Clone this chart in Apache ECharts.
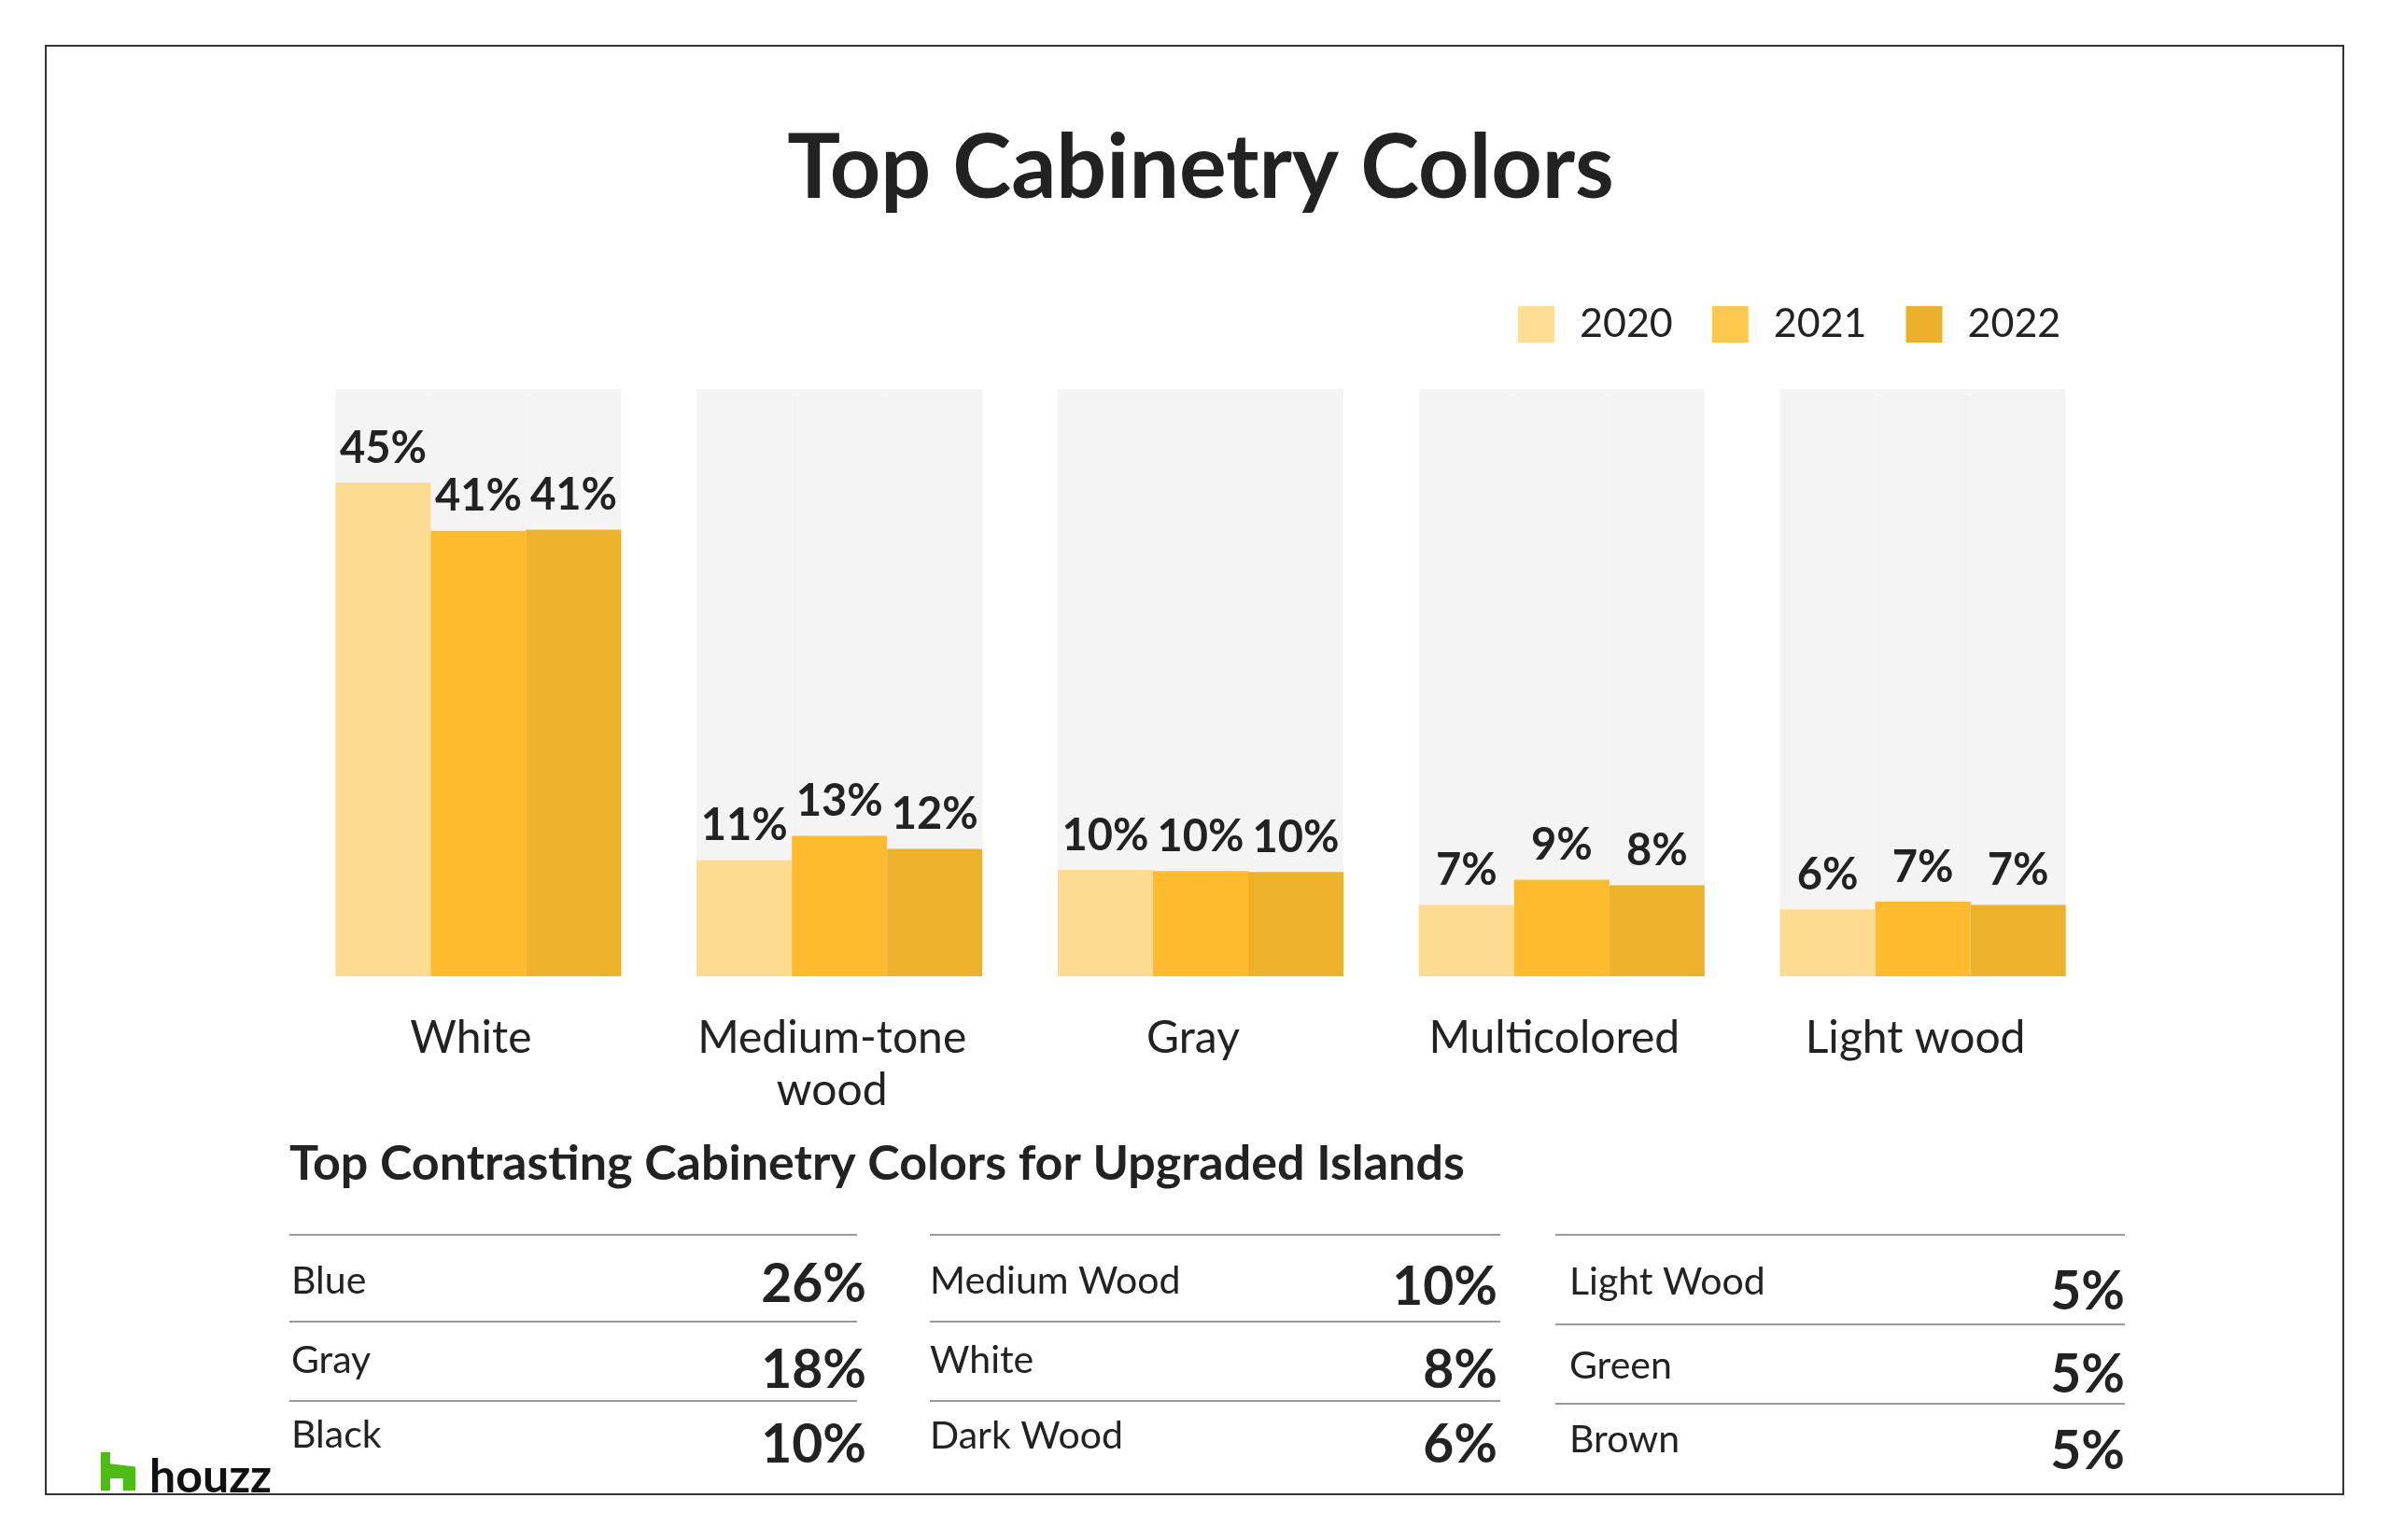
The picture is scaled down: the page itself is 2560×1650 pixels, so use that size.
<!DOCTYPE html>
<html>
<head>
<meta charset="utf-8">
<script src="https://cdn.jsdelivr.net/npm/echarts@6/dist/echarts.min.js"></script>
<style>
html,body{margin:0;padding:0;background:#fff;}
#chart{width:2560px;height:1650px;}
</style>
</head>
<body>
<div id="chart"></div>
<script>
// ---- data ----
const categories = ['White', 'Medium-tone\nwood', 'Gray', 'Multicolored', 'Light wood'];
const years = ['2020', '2021', '2022'];
const values2020 = [45, 10.6, 9.7, 6.5, 6.1];
const values2021 = [40.6, 12.8, 9.6, 8.8, 6.8];
const values2022 = [40.7, 11.6, 9.5, 8.3, 6.5];
const islandTitle = 'Top Contrasting Cabinetry Colors for Upgraded Islands';
const islandNames = [['Blue', 'Gray', 'Black'], ['Medium Wood', 'White', 'Dark Wood'], ['Light Wood', 'Green', 'Brown']];
const islandValues = [[26, 18, 10], [10, 8, 6], [5, 5, 5]];

// ---- layout / style ----
const FONT = 'Lato, "Open Sans", sans-serif';
const TXT = '#222222';
const colors = ['#FDDC92', '#FDBB2D', '#EBB22A'];
const legendColors = ['#FFDD95', '#FFC94F', '#EBB12A'];
const allValues = [values2020, values2021, values2022];

const chart = echarts.init(document.getElementById('chart'));

const colLeft = [310, 996, 1666];
const colRight = [918, 1607, 2276];
const labelX = [312, 996, 1681];
const valueRight = [928, 1604, 2276];
const lineY = [[1323, 1416, 1501], [1323, 1416, 1501], [1323, 1419, 1504]];
const labelY = [[1373, 1458, 1538], [1373, 1458, 1539], [1374, 1464, 1543]];
const valueY = [[1377, 1469, 1549], [1380, 1469, 1549], [1385, 1474, 1556]];

const graphics = [
  { type: 'rect', shape: { x: 49, y: 49, width: 2461, height: 1552 }, style: { fill: 'none', stroke: '#333', lineWidth: 2 }, z: 0 },
  { type: 'text', x: 310, y: 1247, style: { text: islandTitle, fontSize: 52, fontWeight: 'bold', fontFamily: FONT, fill: TXT, align: 'left', verticalAlign: 'middle' } }
];
for (let c = 0; c < 3; c++) {
  for (let r = 0; r < 3; r++) {
    const ly = lineY[c][r];
    graphics.push({ type: 'line', shape: { x1: colLeft[c], y1: ly, x2: colRight[c], y2: ly }, style: { stroke: '#9a9a9a', lineWidth: 2 } });
    graphics.push({ type: 'text', x: labelX[c], y: labelY[c][r], style: { text: islandNames[c][r], fontSize: 41, fontFamily: FONT, fill: TXT, align: 'left', verticalAlign: 'middle' } });
    graphics.push({ type: 'text', x: valueRight[c], y: valueY[c][r], style: { text: islandValues[c][r] + '%', fontSize: 57, fontWeight: 'bold', fontFamily: FONT, fill: TXT, align: 'right', verticalAlign: 'middle' } });
  }
}
// houzz logo (icon box 108..145 x 1556..1597)
(function () {
  const x0 = 108, y0 = 1556, w = 37, h = 41;
  const rel = [[0, 0], [0.27, 0], [0.27, 0.3], [1, 0.38], [1, 1], [0.64, 1], [0.64, 0.68], [0.27, 0.68], [0.27, 1], [0, 1]];
  graphics.push({ type: 'polygon', shape: { points: rel.map(p => [x0 + p[0] * w, y0 + p[1] * h]) }, style: { fill: '#4DBC15' } });
})();
graphics.push({ type: 'text', x: 160, y: 1583, style: { text: 'houzz', fontSize: 50, fontWeight: 'bold', fontFamily: FONT, fill: '#111', align: 'left', verticalAlign: 'middle' } });

const option = {
  backgroundColor: '#ffffff',
  animation: false,
  title: {
    text: 'Top Cabinetry Colors',
    left: 1281,
    textAlign: 'center',
    top: 129,
    textStyle: { fontSize: 95, fontWeight: 'bold', fontFamily: FONT, color: TXT }
  },
  legend: {
    data: years.map((y, i) => ({ name: y, itemStyle: { color: legendColors[i] } })),
    left: 1621,
    top: 321,
    itemWidth: 39,
    itemHeight: 39,
    itemGap: 42,
    icon: 'rect',
    textStyle: { fontSize: 43, fontFamily: FONT, color: TXT, padding: [3, 0, 0, 22] }
  },
  grid: { left: 319, right: 307, top: 417, bottom: 604, containLabel: false },
  xAxis: {
    type: 'category',
    data: categories,
    axisLine: { show: false },
    axisTick: { show: false },
    axisLabel: { fontSize: 48, fontFamily: FONT, color: TXT, margin: 39, lineHeight: 56, verticalAlign: 'top', padding: [0, 16, 0, 0] }
  },
  yAxis: {
    type: 'value',
    min: 0,
    max: 53.5,
    show: false,
    splitLine: { show: false }
  },
  series: years.map((y, i) => ({
    name: y,
    type: 'bar',
    data: allValues[i],
    barWidth: 102,
    barGap: '0%',
    itemStyle: { color: colors[i] },
    showBackground: true,
    backgroundStyle: { color: '#F4F4F4' },
    label: {
      show: true,
      position: 'top',
      distance: 13,
      fontSize: 47,
      fontWeight: 'bold',
      fontFamily: FONT,
      color: TXT,
      formatter: p => Math.round(p.value) + '%'
    }
  })),
  graphic: graphics
};
chart.setOption(option);
</script>
</body>
</html>
